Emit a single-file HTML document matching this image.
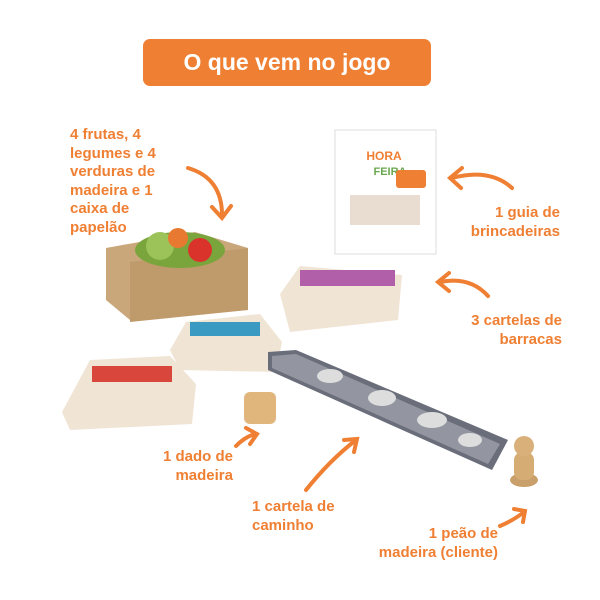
<!DOCTYPE html><html><head><meta charset="utf-8"><style>
body{margin:0;width:600px;height:600px;background:#fff;position:relative;overflow:hidden;font-family:"Liberation Sans",sans-serif}
.t{position:absolute;color:#ef7f33;font-weight:bold;font-size:15px;line-height:18.5px;white-space:nowrap}
.a{position:absolute}
</style></head><body>
<div style="position:absolute;left:143px;top:39px;width:288px;height:47px;background:#ef7f33;border-radius:7px;color:#fff;font-weight:bold;font-size:23px;text-align:center;line-height:47px">O que vem no jogo</div>
<div class="t" style="left:70px;top:126px">4 frutas, 4<br>legumes e 4<br>verduras de<br>madeira e 1<br>caixa de<br>papelão</div>
<div class="t" style="left:440px;top:204px;text-align:right;width:120px">1 guia de<br>brincadeiras</div>
<div class="t" style="left:420px;top:312px;text-align:right;width:142px">3 cartelas de<br>barracas</div>
<div class="t" style="left:135px;top:448px;text-align:right;width:98px">1 dado de<br>madeira</div>
<div class="t" style="left:252px;top:498px">1 cartela de<br>caminho</div>
<div class="t" style="left:368px;top:525px;text-align:right;width:130px">1 peão de<br>madeira (cliente)</div>
<svg class="a" style="left:0;top:0" width="600" height="600">
<g fill="none" stroke="#ef7f33" stroke-width="4" stroke-linecap="round">
<path d="M188 168 Q222 178 222 215"/><path d="M212 207 L222 218 L231 206"/>
<path d="M512 188 Q490 168 452 178"/><path d="M462 168 L450 178 L461 188"/>
<path d="M488 296 Q470 276 440 282"/><path d="M449 273 L438 282 L449 291"/>
<path d="M236 446 Q246 436 256 434"/><path d="M246 428 L257 434 L250 444"/>
<path d="M306 490 Q330 460 356 440"/><path d="M344 440 L357 439 L354 452"/>
<path d="M500 526 Q514 520 524 512"/><path d="M514 509 L525 511 L523 522"/>
</g>
<rect x="335" y="130" width="101" height="124" fill="#fff" stroke="#ddd"/>
<text x="384" y="160" fill="#ef7f33" font-size="12" font-weight="bold" text-anchor="middle" font-family="Liberation Sans">HORA</text>
<text x="390" y="175" fill="#6aa84f" font-size="11" font-weight="bold" text-anchor="middle" font-family="Liberation Sans">FEIRA</text>
<rect x="396" y="170" width="30" height="18" rx="3" fill="#ef7f33"/>
<rect x="350" y="195" width="70" height="30" fill="#e8ddd0"/>
<polygon points="106,248 195,232 248,248 248,310 130,320 106,300" fill="#c9a77b"/>
<polygon points="130,262 248,248 248,310 130,322" fill="#bf9b6c"/>
<ellipse cx="180" cy="250" rx="45" ry="18" fill="#7aa53c"/>
<circle cx="160" cy="246" r="14" fill="#9cc35a"/><circle cx="200" cy="250" r="12" fill="#d9332b"/><circle cx="178" cy="238" r="10" fill="#e87930"/>
<polygon points="280,294 300,266 402,275 398,320 290,332" fill="#f0e4d4"/>
<rect x="300" y="270" width="95" height="16" fill="#b05fa8"/>
<polygon points="170,350 186,322 260,314 282,342 276,372 180,370" fill="#f0e4d4"/>
<rect x="190" y="322" width="70" height="14" fill="#3b9ac1"/>
<polygon points="62,412 90,360 170,356 196,384 192,424 70,430" fill="#f0e4d4"/>
<rect x="92" y="366" width="80" height="16" fill="#d9463c"/>
<polygon points="268,352 296,350 508,440 492,470 268,370" fill="#6a6e7a"/>
<polygon points="272,356 296,354 500,444 488,464 272,368" fill="#9396a0"/>
<g fill="#ddd"><ellipse cx="330" cy="376" rx="13" ry="7"/><ellipse cx="382" cy="398" rx="14" ry="8"/><ellipse cx="432" cy="420" rx="15" ry="8"/><ellipse cx="470" cy="440" rx="12" ry="7"/></g>
<rect x="244" y="392" width="32" height="32" rx="6" fill="#e0b67c"/>
<ellipse cx="524" cy="480" rx="14" ry="7" fill="#c9a06b"/><rect x="514" y="452" width="20" height="28" rx="8" fill="#d6ac75"/><circle cx="524" cy="446" r="10" fill="#d9b07a"/>
</svg>
</body></html>
